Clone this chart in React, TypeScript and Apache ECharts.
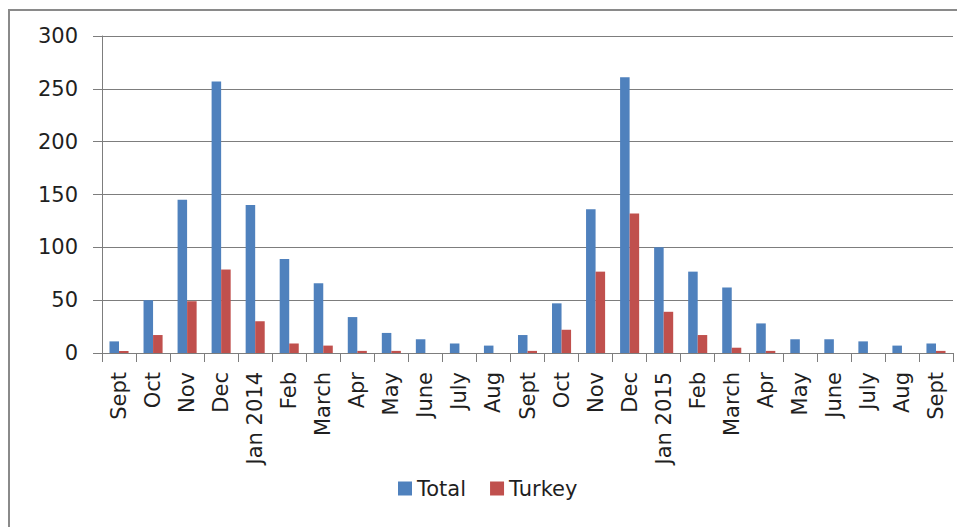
import React, { useEffect, useRef } from "react";
import * as echarts from "echarts";

// Monthly counts, Sept 2013 – Sept 2015
const categories = [
  "Sept", "Oct", "Nov", "Dec", "Jan 2014", "Feb", "March", "Apr", "May", "June", "July", "Aug",
  "Sept", "Oct", "Nov", "Dec", "Jan 2015", "Feb", "March", "Apr", "May", "June", "July", "Aug", "Sept",
];
const totalValues = [
  11, 50, 145, 257, 140, 89, 66, 34, 19, 13, 9, 7,
  17, 47, 136, 261, 100, 77, 62, 28, 13, 13, 11, 7, 9,
];
const turkeyValues = [
  2, 17, 49, 79, 30, 9, 7, 2, 2, 0, 0, 0,
  2, 22, 77, 132, 39, 17, 5, 2, 0, 0, 0, 0, 2,
];
const yTicks = { min: 0, max: 300, interval: 50 };

const FONT = "DejaVu Sans";
const TEXT = "#1f1f1f";
const GRID_GRAY = "#7d7d7d";

export default function App() {
  const ref = useRef<HTMLDivElement>(null);

  useEffect(() => {
    if (!ref.current) return;
    const chart = echarts.init(ref.current, null, { renderer: "svg" });
    chart.setOption({
      animation: false,
      backgroundColor: "#ffffff",
      textStyle: { fontFamily: FONT, color: TEXT },
      graphic: [
        {
          type: "line",
          shape: { x1: 8, y1: 10, x2: 957, y2: 10 },
          style: { stroke: "#8a8a8a", lineWidth: 2 },
        },
        {
          type: "line",
          shape: { x1: 9, y1: 10, x2: 9, y2: 527 },
          style: { stroke: "#8a8a8a", lineWidth: 2 },
        },
      ],
      grid: { left: 102, right: 4, top: 36, bottom: 174, containLabel: false },
      legend: {
        left: 398,
        top: 478,
        padding: 0,
        icon: "rect",
        itemWidth: 14,
        itemHeight: 14,
        itemGap: 24,
        textStyle: { fontFamily: FONT, fontSize: 21, color: TEXT },
        data: ["Total", "Turkey"],
      },
      xAxis: {
        type: "category",
        data: categories,
        axisLine: { show: true, lineStyle: { color: GRID_GRAY, width: 1 } },
        axisTick: { show: true, length: 9, alignWithLabel: false, lineStyle: { color: GRID_GRAY } },
        axisLabel: {
          interval: 0,
          rotate: 90,
          margin: 19,
          fontFamily: FONT,
          fontSize: 21,
          color: TEXT,
        },
      },
      yAxis: {
        type: "value",
        min: yTicks.min,
        max: yTicks.max,
        interval: yTicks.interval,
        axisLine: { show: true, lineStyle: { color: GRID_GRAY, width: 1 } },
        axisTick: { show: true, length: 9, lineStyle: { color: GRID_GRAY } },
        axisLabel: { margin: 24, fontFamily: FONT, fontSize: 21, color: TEXT },
        splitLine: { show: true, lineStyle: { color: GRID_GRAY, width: 1 } },
      },
      series: [
        {
          name: "Total",
          type: "bar",
          data: totalValues,
          barGap: "0%",
          barCategoryGap: "44%",
          itemStyle: { color: "#4f81bd" },
        },
        {
          name: "Turkey",
          type: "bar",
          data: turkeyValues,
          itemStyle: { color: "#c0504d" },
        },
      ],
    });
    return () => chart.dispose();
  }, []);

  return (
    <div
      ref={ref}
      style={{ position: "fixed", left: 0, top: 0, width: 957, height: 527 }}
    />
  );
}
